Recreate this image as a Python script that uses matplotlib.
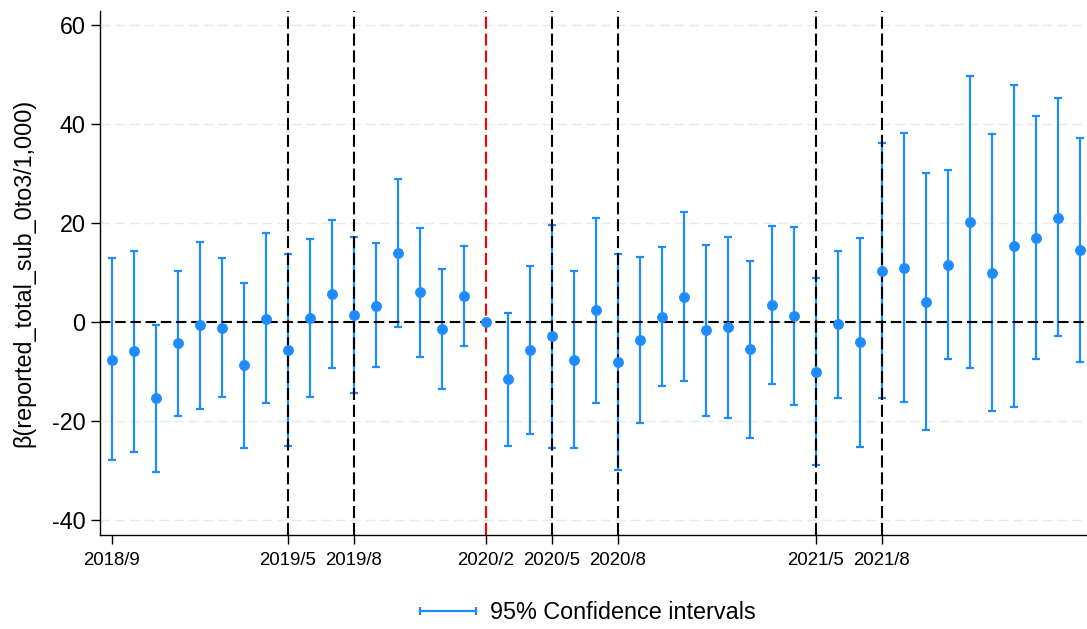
import numpy as np
import pandas as pd
import matplotlib as mpl
mpl.use('Agg')
import matplotlib.pyplot as plt
from matplotlib.lines import Line2D
from matplotlib.legend_handler import HandlerBase

plt.rcParams['font.family'] = ['Liberation Sans', 'DejaVu Sans']

# ── data ──────────────────────────────────────────────────────────────────
months = [p.strftime('%Y/%-m') for p in pd.period_range('2018-09', '2022-05', freq='M')]

beta = [-7.6, -5.9, -15.4, -4.3, -0.6, -1.2, -8.7, 0.65, -5.7, 0.8,
        5.6, 1.4, 3.3, 13.9, 6.0, -1.4, 5.3, 0.0, -11.5, -5.7,
        -2.9, -7.6, 2.4, -8.1, -3.6, 1.1, 5.1, -1.7, -1.1, -5.5,
        3.4, 1.2, -10.0, -0.4, -4.1, 10.3, 11.0, 4.1, 11.6, 20.1,
        10.0, 15.3, 17.0, 21.1, 14.5]
ci_hi = [12.9, 14.4, -0.6, 10.3, 16.2, 12.9, 7.9, 17.9, 13.8, 16.8,
         20.6, 17.2, 16.0, 28.9, 19.0, 10.8, 15.3, 0.0, 1.8, 11.3,
         19.5, 10.3, 21.1, 13.8, 13.2, 15.2, 22.2, 15.6, 17.2, 12.3,
         19.4, 19.2, 8.9, 14.4, 17.0, 36.1, 38.2, 30.1, 30.7, 49.6,
         38.0, 47.9, 41.6, 45.2, 37.2]
ci_lo = [-27.8, -26.2, -30.2, -18.9, -17.5, -15.2, -25.4, -16.4, -25.0, -15.2,
         -9.3, -14.3, -9.1, -0.9, -7.1, -13.5, -4.8, 0.0, -25.0, -22.7,
         -25.4, -25.4, -16.3, -29.9, -20.4, -12.9, -12.0, -19.0, -19.3, -23.4,
         -12.6, -16.7, -28.9, -15.3, -25.2, -15.4, -16.2, -21.8, -7.4, -9.2,
         -18.0, -17.2, -7.4, -2.8, -8.0]

tick_months = ['2018/9', '2019/5', '2019/8', '2020/2', '2020/5', '2020/8', '2021/5', '2021/8']
event_months = ['2019/5', '2019/8', '2020/5', '2020/8', '2021/5', '2021/8']
base_month = '2020/2'

blue = '#1E8CFF'


class HandlerHBar(HandlerBase):
    """horizontal bar with caps, like the Stata legend key"""
    def create_artists(self, legend, orig_handle, xdescent, ydescent,
                       width, height, fontsize, trans):
        y = height / 2 - ydescent
        xs = [-xdescent, width - xdescent]
        bar = Line2D(xs, [y, y], color=blue, lw=1.6)
        caps = Line2D(xs, [y, y], ls='none', marker='|', color=blue,
                      markersize=6, markeredgewidth=1.6)
        bar.set_transform(trans)
        caps.set_transform(trans)
        return [bar, caps]


x = np.arange(len(months))
beta = np.array(beta)
yerr = [beta - np.array(ci_lo), np.array(ci_hi) - beta]

fig = plt.figure(figsize=(10.87, 6.29), dpi=100)
ax = fig.add_axes([0.0923, 0.1494, 0.9077, 0.8331])

# grid
for yv in [-40, -20, 0, 20, 40, 60]:
    ax.axhline(yv, color='#e9e9e9', lw=1.0, dashes=(7, 3.6), zorder=0)

eb = ax.errorbar(x, beta, yerr=yerr, fmt='none', ecolor=blue, elinewidth=1.6,
                 capsize=2.6, capthick=1.6, zorder=2)

ax.axhline(0, color='black', lw=1.5, dashes=(5, 2.3), zorder=3)
for m in event_months:
    ax.axvline(months.index(m), color='black', lw=1.5, dashes=(5.8, 2.3), zorder=3)
ax.axvline(months.index(base_month), color='#ff0000', lw=1.5, dashes=(5.8, 2.3), zorder=3)

ax.plot(x, beta, 'o', color=blue, markersize=6.8, zorder=4)

ax.set_xlim(-0.52, 44.33)
ax.set_ylim(-43, 62.8)

ax.set_xticks([months.index(m) for m in tick_months])
ax.set_xticklabels(tick_months, fontsize=13.4)
ax.set_yticks([-40, -20, 0, 20, 40, 60])
ax.set_yticklabels(['-40', '-20', '0', '20', '40', '60'], fontsize=16.8)
ax.tick_params(axis='x', length=6.5, width=1.0, pad=5.5)
ax.tick_params(axis='y', length=6.5, width=1.0, pad=4)

ax.set_ylabel('β(reported_total_sub_0to3/1,000)', fontsize=16.8, labelpad=12)

for s in ['top', 'right']:
    ax.spines[s].set_visible(False)
for s in ['left', 'bottom']:
    ax.spines[s].set_linewidth(1.0)

fig.legend([eb], ['95% Confidence intervals'], handler_map={type(eb): HandlerHBar()},
           loc='center', bbox_to_anchor=(0.541, 0.026), frameon=False,
           fontsize=16.8, handlelength=2.4, handletextpad=0.6)

fig.savefig('out.png', dpi=100)
